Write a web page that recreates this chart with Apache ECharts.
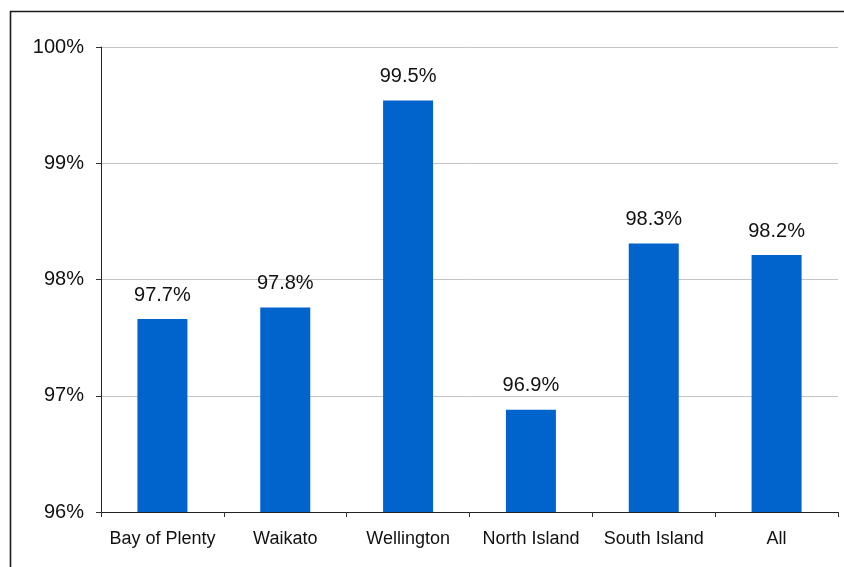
<!DOCTYPE html>
<html>
<head>
<meta charset="utf-8">
<script src="https://cdn.jsdelivr.net/npm/echarts@6/dist/echarts.min.js"></script>
<style>
  html, body { margin: 0; padding: 0; background: #fff; }
  #chart { width: 844px; height: 567px; }
</style>
</head>
<body>
<div id="chart"></div>
<script>
// Regions and their percentage values
const categories = ['Bay of Plenty', 'Waikato', 'Wellington', 'North Island', 'South Island', 'All'];
const values = [97.66, 97.76, 99.54, 96.88, 98.31, 98.21];

// Value axis range (percent)
const yMin = 96;
const yMax = 100;
const yStep = 1;

const chart = echarts.init(document.getElementById('chart'), null, { renderer: 'canvas' });
const font = 'Arial, "Liberation Sans", sans-serif';

chart.setOption({
  animation: false,
  backgroundColor: '#ffffff',
  graphic: [{
    type: 'rect',
    silent: true,
    shape: { x: 10.5, y: 11.5, width: 900, height: 700 },
    style: { fill: 'none', stroke: '#1a1a1a', lineWidth: 1.6 }
  }],
  grid: { left: 101, right: 6, top: 47, bottom: 55 },
  xAxis: {
    type: 'category',
    data: categories,
    axisLine: { lineStyle: { color: '#222', width: 1 } },
    axisTick: { show: true, alignWithLabel: false, length: 5, lineStyle: { color: '#333' } },
    axisLabel: { color: '#111', fontSize: 18, fontFamily: font, margin: 18, interval: 0 }
  },
  yAxis: {
    type: 'value',
    min: yMin,
    max: yMax,
    interval: yStep,
    axisLine: { show: true, lineStyle: { color: '#222', width: 1 } },
    axisTick: { show: true, length: 5, lineStyle: { color: '#333' } },
    splitLine: { lineStyle: { color: '#c4c4c4', width: 1 } },
    axisLabel: {
      color: '#111', fontSize: 20, fontFamily: font, margin: 17,
      formatter: v => v + '%'
    }
  },
  series: [{
    type: 'bar',
    data: values,
    barWidth: 50,
    itemStyle: { color: '#0064CC' },
    label: {
      show: true,
      position: 'top',
      distance: 14,
      color: '#111',
      fontSize: 20,
      fontFamily: font,
      formatter: p => p.value.toFixed(1) + '%'
    }
  }]
});
</script>
</body>
</html>
